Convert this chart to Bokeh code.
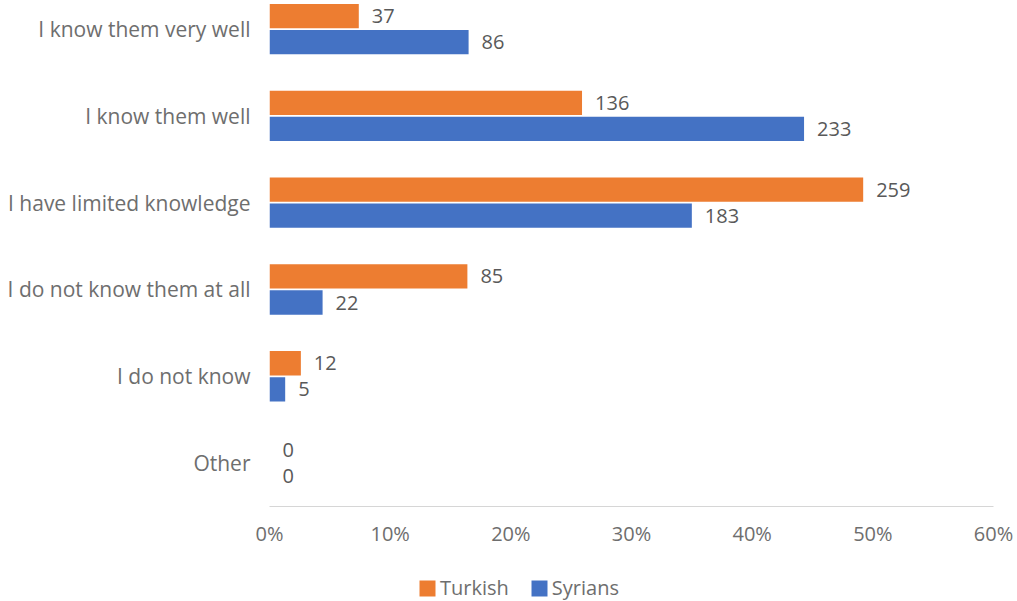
import numpy as np
from bokeh.plotting import figure
from bokeh.layouts import column
from bokeh.models import (ColumnDataSource, Range1d, FixedTicker, PrintfTickFormatter,
                          Legend, LegendItem)
from bokeh.transform import dodge
from bokeh.core.properties import value
from bokeh.embed import file_html
from bokeh.resources import INLINE

# ---- data ----
categories = ["I know them very well", "I know them well", "I have limited knowledge",
              "I do not know them at all", "I do not know", "Other"]
series_names = ["Turkish", "Syrians"]
turkish_pct = [7.4, 25.9, 49.2, 16.4, 2.6, 0.0]
syrians_pct = [16.5, 44.3, 35.0, 4.4, 1.3, 0.0]
turkish_count = [37, 136, 259, 85, 12, 0]
syrians_count = [86, 233, 183, 22, 5, 0]
x_ticks = [0, 10, 20, 30, 40, 50, 60]

ORANGE = "#ED7D31"
BLUE = "#4472C4"
FONT = "Open Sans"
AXIS_GRAY = "#6e6e6e"
LABEL_GRAY = "#595959"

pos = list(range(len(categories)))
src = ColumnDataSource(dict(
    pos=pos,
    turkish=turkish_pct,
    syrians=syrians_pct,
    turkish_lbl=[str(v) for v in turkish_count],
    syrians_lbl=[str(v) for v in syrians_count],
))

W = 1017
H_MAIN, H_LEG = 555, 46
p = figure(width=W, height=H_MAIN, output_backend="svg", toolbar_location=None,
           x_range=Range1d(0, 60), y_range=Range1d(5.5, -0.329),
           min_border_left=269, min_border_right=24, min_border_top=0,
           min_border_bottom=49)
p.outline_line_color = None
p.xgrid.grid_line_color = None
p.ygrid.grid_line_color = None
p.background_fill_color = "white"
p.border_fill_color = "white"

BAR_H = 0.28
OFF = 0.15
r_t = p.hbar(y=dodge("pos", -OFF), left=0, right="turkish", height=BAR_H,
             source=src, fill_color=ORANGE, line_color=None)
r_s = p.hbar(y=dodge("pos", OFF), left=0, right="syrians", height=BAR_H,
             source=src, fill_color=BLUE, line_color=None)

p.text(x="turkish", y=dodge("pos", -OFF), text="turkish_lbl", source=src,
       x_offset=13, text_align="left", text_baseline="middle",
       text_font=value(FONT), text_font_size="20px", text_color=LABEL_GRAY)
p.text(x="syrians", y=dodge("pos", OFF), text="syrians_lbl", source=src,
       x_offset=13, text_align="left", text_baseline="middle",
       text_font=value(FONT), text_font_size="20px", text_color=LABEL_GRAY)

# y axis (categories)
p.yaxis.ticker = FixedTicker(ticks=pos)
p.yaxis.major_label_overrides = {i: c for i, c in enumerate(categories)}
p.yaxis.axis_line_color = None
p.yaxis.major_tick_line_color = None
p.yaxis.minor_tick_line_color = None
p.yaxis.major_tick_in = 0
p.yaxis.major_tick_out = 0
p.yaxis.major_label_standoff = 19
p.yaxis.major_label_text_font = FONT
p.yaxis.major_label_text_font_size = "21px"
p.yaxis.major_label_text_color = AXIS_GRAY

# x axis (percent)
p.xaxis.ticker = FixedTicker(ticks=x_ticks)
p.xaxis.formatter = PrintfTickFormatter(format="%d%%")
p.xaxis.axis_line_color = "#d6d6d6"
p.xaxis.axis_line_width = 1
p.xaxis.major_tick_line_color = None
p.xaxis.minor_tick_line_color = None
p.xaxis.major_tick_in = 0
p.xaxis.major_tick_out = 0
p.xaxis.major_label_standoff = 13
p.xaxis.major_label_text_font = FONT
p.xaxis.major_label_text_font_size = "20px"
p.xaxis.major_label_text_color = AXIS_GRAY

# legend strip below the chart (its bars sit outside its visible range)
pl = figure(width=W, height=H_LEG, output_backend="svg", toolbar_location=None,
            x_range=Range1d(0, 1), y_range=Range1d(100, 101),
            x_axis_location=None, y_axis_location=None,
            min_border_left=0, min_border_right=0, min_border_top=0, min_border_bottom=0)
pl.outline_line_color = None
pl.xgrid.grid_line_color = None
pl.ygrid.grid_line_color = None
lt = pl.hbar(y="pos", right="turkish", height=0.5, source=src, fill_color=ORANGE, line_color=None)
ls = pl.hbar(y="pos", right="syrians", height=0.5, source=src, fill_color=BLUE, line_color=None)
legend = Legend(items=[LegendItem(label=series_names[0], renderers=[lt]),
                       LegendItem(label=series_names[1], renderers=[ls])],
                orientation="horizontal", location=(148, 0),
                glyph_width=20, glyph_height=20, label_standoff=3, spacing=20,
                padding=0, margin=0, border_line_alpha=0, background_fill_alpha=0,
                label_text_font=FONT, label_text_font_size="20px",
                label_text_color=AXIS_GRAY, label_height=20)
pl.add_layout(legend, "center")

layout = column(p, pl, spacing=0)
open("out.html", "w").write(file_html(layout, INLINE))
